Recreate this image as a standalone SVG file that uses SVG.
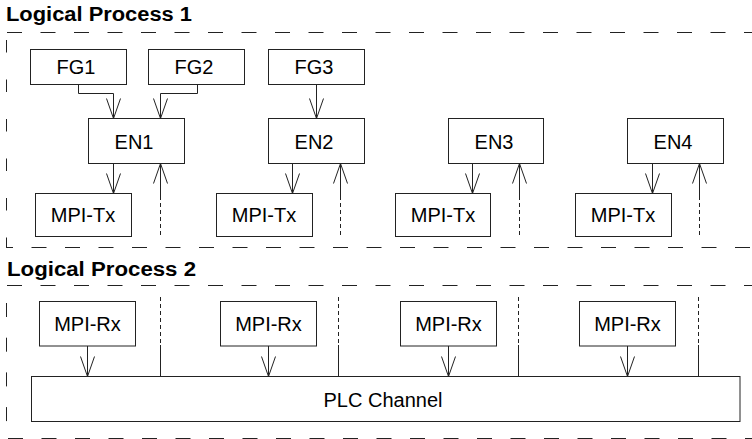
<svg xmlns="http://www.w3.org/2000/svg" width="752" height="439" viewBox="0 0 752 439">
<style>
  .box { fill: #fff; stroke: #222; stroke-width: 1; }
  .lbl { font-family: "Liberation Sans", Arial, Helvetica, sans-serif; font-size: 20px; fill: #000; text-anchor: middle; }
  .title { font-family: "Liberation Sans", Arial, Helvetica, sans-serif; font-size: 20px; font-weight: bold; fill: #000; }
  .ln { fill: none; stroke: #222; stroke-width: 1; }
  .dot { fill: none; stroke: #222; stroke-width: 1; stroke-dasharray: 4 3; }
  .frameH { fill: none; stroke: #222; stroke-width: 1; stroke-dasharray: 15 18.5; }
</style>
<defs>
  <marker id="arr" markerUnits="userSpaceOnUse" markerWidth="22" markerHeight="16" refX="20" refY="8" orient="auto" overflow="visible">
    <path d="M0,1 L20,8 L0,15" fill="none" stroke="#222" stroke-width="1"/>
  </marker>
</defs>
<rect x="0" y="0" width="752" height="439" fill="#fff"/>

<g id="frames">
  <text class="title" x="6" y="21" textLength="186" lengthAdjust="spacingAndGlyphs">Logical Process 1</text>
  <line class="frameH" x1="7" y1="32.5" x2="752" y2="32.5"/>
  <line class="ln" x1="6.5" y1="40" x2="6.5" y2="247" stroke-dasharray="12.5 27"/>
  <line class="frameH" x1="6" y1="247.5" x2="752" y2="247.5" stroke-dashoffset="8"/>
  <text class="title" x="7" y="276" textLength="189" lengthAdjust="spacingAndGlyphs">Logical Process 2</text>
  <line class="frameH" x1="7" y1="285.5" x2="752" y2="285.5"/>
  <line class="ln" x1="6.5" y1="303" x2="6.5" y2="422" stroke-dasharray="14 20.7"/>
  <line class="frameH" x1="8" y1="438.5" x2="752" y2="438.5"/>
</g>

<g id="connectors">
  <path class="ln" d="M78.5,84.5 V93.5 H113.5 V118.5" marker-end="url(#arr)"/>
  <path class="ln" d="M197.5,84.5 V93.5 H160.5 V118.5" marker-end="url(#arr)"/>
  <path class="ln" d="M316.5,84.5 V118.5" marker-end="url(#arr)"/>
  <line class="ln" x1="113.5" y1="163.5" x2="113.5" y2="193.5" marker-end="url(#arr)"/>
  <line class="ln" x1="292.5" y1="163.5" x2="292.5" y2="193.5" marker-end="url(#arr)"/>
  <line class="ln" x1="472.5" y1="163.5" x2="472.5" y2="193.5" marker-end="url(#arr)"/>
  <line class="ln" x1="652.5" y1="163.5" x2="652.5" y2="193.5" marker-end="url(#arr)"/>
  <line class="ln" x1="160.5" y1="198" x2="160.5" y2="163.5" marker-end="url(#arr)"/>
  <line class="dot" x1="160.5" y1="235" x2="160.5" y2="198"/>
  <line class="ln" x1="340.5" y1="198" x2="340.5" y2="163.5" marker-end="url(#arr)"/>
  <line class="dot" x1="340.5" y1="235" x2="340.5" y2="198"/>
  <line class="ln" x1="519.5" y1="198" x2="519.5" y2="163.5" marker-end="url(#arr)"/>
  <line class="dot" x1="519.5" y1="235" x2="519.5" y2="198"/>
  <line class="ln" x1="699.5" y1="198" x2="699.5" y2="163.5" marker-end="url(#arr)"/>
  <line class="dot" x1="699.5" y1="235" x2="699.5" y2="198"/>
  <line class="ln" x1="87.5" y1="346" x2="87.5" y2="376.5" marker-end="url(#arr)"/>
  <line class="ln" x1="268.5" y1="346" x2="268.5" y2="376.5" marker-end="url(#arr)"/>
  <line class="ln" x1="448.5" y1="346" x2="448.5" y2="376.5" marker-end="url(#arr)"/>
  <line class="ln" x1="627.5" y1="346" x2="627.5" y2="376.5" marker-end="url(#arr)"/>
  <line class="dot" x1="160.5" y1="297" x2="160.5" y2="345"/>
  <line class="ln" x1="160.5" y1="345" x2="160.5" y2="376.5"/>
  <line class="dot" x1="338.5" y1="297" x2="338.5" y2="345"/>
  <line class="ln" x1="338.5" y1="345" x2="338.5" y2="376.5"/>
  <line class="dot" x1="518.5" y1="297" x2="518.5" y2="345"/>
  <line class="ln" x1="518.5" y1="345" x2="518.5" y2="376.5"/>
  <line class="dot" x1="698.5" y1="297" x2="698.5" y2="345"/>
  <line class="ln" x1="698.5" y1="345" x2="698.5" y2="376.5"/>
</g>

<g id="FG1"><rect class="box" x="30.5" y="49.5" width="96" height="35"/><text class="lbl" x="76" y="74">FG1</text></g>
<g id="FG2"><rect class="box" x="148.5" y="49.5" width="96" height="35"/><text class="lbl" x="194" y="74">FG2</text></g>
<g id="FG3"><rect class="box" x="268.5" y="49.5" width="96" height="35"/><text class="lbl" x="314" y="74">FG3</text></g>

<g id="EN1"><rect class="box" x="88.5" y="118.5" width="96" height="45"/><text class="lbl" x="134" y="149">EN1</text></g>
<g id="EN2"><rect class="box" x="268.5" y="118.5" width="96" height="45"/><text class="lbl" x="314" y="149">EN2</text></g>
<g id="EN3"><rect class="box" x="448.5" y="118.5" width="95" height="45"/><text class="lbl" x="494" y="149">EN3</text></g>
<g id="EN4"><rect class="box" x="627.5" y="118.5" width="96" height="45"/><text class="lbl" x="673" y="149">EN4</text></g>

<g id="MPI-Tx1"><rect class="box" x="35.5" y="193.5" width="96" height="43"/><text class="lbl" x="83" y="222">MPI-Tx</text></g>
<g id="MPI-Tx2"><rect class="box" x="216.5" y="193.5" width="96" height="43"/><text class="lbl" x="264" y="222">MPI-Tx</text></g>
<g id="MPI-Tx3"><rect class="box" x="395.5" y="193.5" width="95" height="43"/><text class="lbl" x="443" y="222">MPI-Tx</text></g>
<g id="MPI-Tx4"><rect class="box" x="575.5" y="193.5" width="96" height="43"/><text class="lbl" x="623" y="222">MPI-Tx</text></g>

<g id="MPI-Rx1"><rect class="box" x="39.5" y="301.5" width="96" height="44.5"/><text class="lbl" x="87.5" y="331">MPI-Rx</text></g>
<g id="MPI-Rx2"><rect class="box" x="220.5" y="301.5" width="96" height="44.5"/><text class="lbl" x="268.5" y="331">MPI-Rx</text></g>
<g id="MPI-Rx3"><rect class="box" x="400.5" y="301.5" width="96" height="44.5"/><text class="lbl" x="448.5" y="331">MPI-Rx</text></g>
<g id="MPI-Rx4"><rect class="box" x="579.5" y="301.5" width="96" height="44.5"/><text class="lbl" x="627.5" y="331">MPI-Rx</text></g>

<g id="PLC"><rect class="box" x="31.5" y="376.5" width="708.5" height="45"/><text class="lbl" x="383" y="407">PLC Channel</text></g>
</svg>
